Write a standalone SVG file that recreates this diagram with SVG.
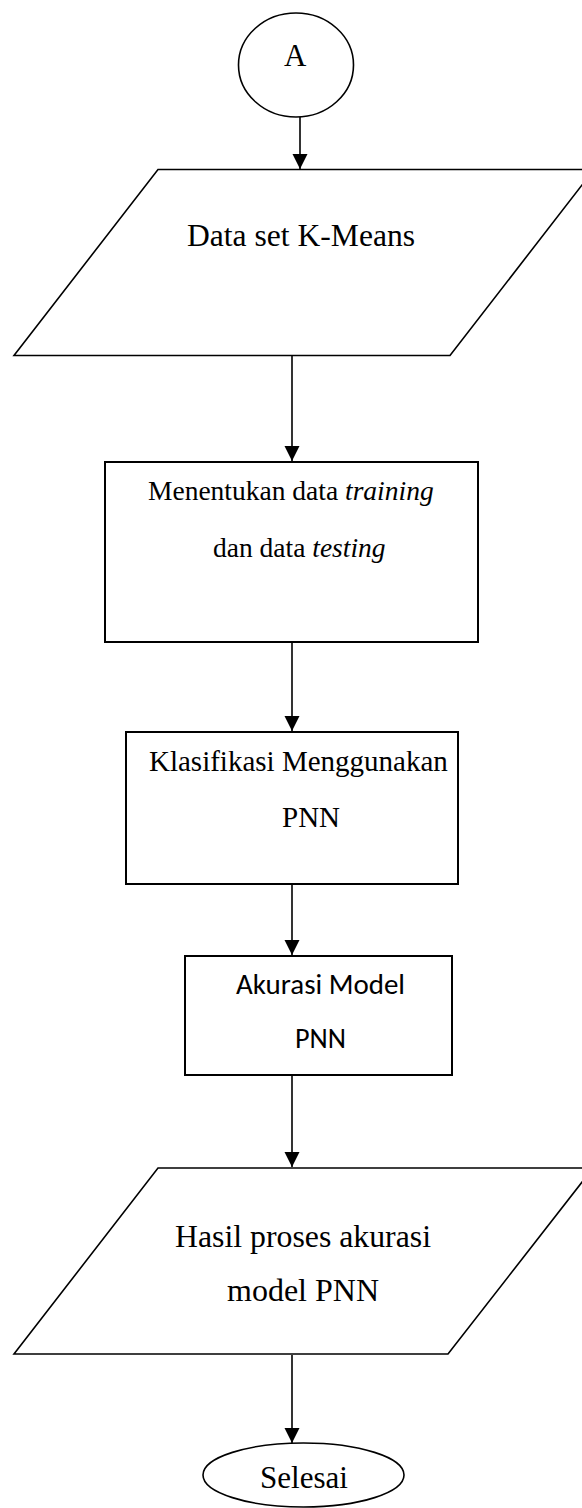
<svg xmlns="http://www.w3.org/2000/svg" width="582" height="1508" viewBox="0 0 582 1508">
<style>
.shape{fill:#fff;stroke:#000;stroke-width:1.6}
.box{fill:#fff;stroke:#000;stroke-width:2}
.conn{fill:none;stroke:#000;stroke-width:1.6}
.t{font-family:"Liberation Serif","Times New Roman",serif;fill:#000}
.s{font-family:Carlito,Lato,"Open Sans",sans-serif;fill:#000}
</style>
<defs>
<marker id="ah" markerUnits="userSpaceOnUse" markerWidth="16" markerHeight="16" refX="15" refY="7.5" orient="auto">
<path d="M0,0 L15,7.5 L0,15 z" fill="#000"/>
</marker>
</defs>
<rect width="582" height="1508" fill="#fff"/>
<g id="connectors">
<line class="conn" x1="300" y1="117" x2="300" y2="169" marker-end="url(#ah)"/>
<line class="conn" x1="292" y1="356" x2="292" y2="461" marker-end="url(#ah)"/>
<line class="conn" x1="292" y1="643" x2="292" y2="731" marker-end="url(#ah)"/>
<line class="conn" x1="292" y1="885" x2="292" y2="955" marker-end="url(#ah)"/>
<line class="conn" x1="292" y1="1076" x2="292" y2="1167" marker-end="url(#ah)"/>
<line class="conn" x1="292" y1="1355" x2="292" y2="1443" marker-end="url(#ah)"/>
</g>
<g id="start">
<ellipse class="shape" cx="296" cy="65" rx="57.5" ry="52"/>
<text class="t" x="284" y="66" font-size="31">A</text>
</g>
<g id="input-dataset">
<polygon class="shape" points="158,169.5 594,169.5 450,355.5 14,355.5"/>
<text class="t" x="187" y="246" font-size="31" textLength="228" lengthAdjust="spacingAndGlyphs">Data set K-Means</text>
</g>
<g id="split-data">
<rect class="box" x="105" y="462" width="373" height="180"/>
<text class="t" x="148" y="500" font-size="27.5">Menentukan data <tspan font-style="italic">training</tspan></text>
<text class="t" x="213" y="557" font-size="27.5">dan data <tspan font-style="italic">testing</tspan></text>
</g>
<g id="classify">
<rect class="box" x="126" y="732" width="332" height="152"/>
<text class="t" x="149" y="771" font-size="29">Klasifikasi Menggunakan</text>
<text class="t" x="282" y="827" font-size="29">PNN</text>
</g>
<g id="accuracy">
<rect class="box" x="185" y="956" width="267" height="119"/>
<text class="s" x="236" y="994" font-size="28" textLength="169" lengthAdjust="spacingAndGlyphs">Akurasi Model</text>
<text class="s" x="295" y="1048" font-size="28" textLength="51" lengthAdjust="spacingAndGlyphs">PNN</text>
</g>
<g id="output-result">
<polygon class="shape" points="158,1168 593,1168 448,1354 14,1354"/>
<text class="t" x="175" y="1247" font-size="32" textLength="256" lengthAdjust="spacingAndGlyphs">Hasil proses akurasi</text>
<text class="t" x="227" y="1301" font-size="32" textLength="152" lengthAdjust="spacingAndGlyphs">model PNN</text>
</g>
<g id="end">
<ellipse class="shape" cx="303.5" cy="1475" rx="100.5" ry="32"/>
<text class="t" x="260" y="1488" font-size="31" textLength="88" lengthAdjust="spacingAndGlyphs">Selesai</text>
</g>
</svg>
